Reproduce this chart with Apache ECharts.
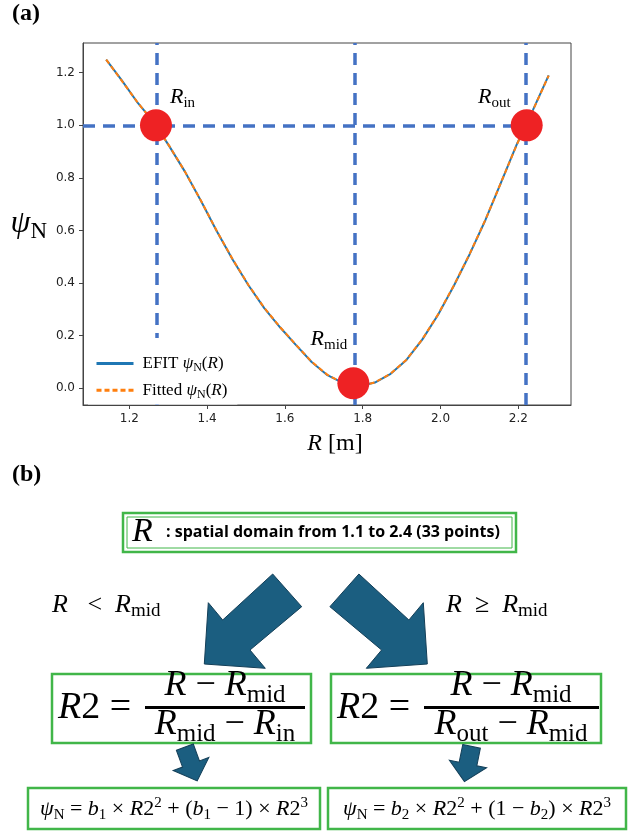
<!DOCTYPE html>
<html><head><meta charset="utf-8">
<script src="https://cdn.jsdelivr.net/npm/echarts@6/dist/echarts.min.js"></script>
<style>html,body{margin:0;padding:0;background:#fff}#c{width:629px;height:840px}</style>
</head><body><div id="c"></div>
<script>
// ---- data ----
const rGrid = [1.1406, 1.1813, 1.2219, 1.2625, 1.3031, 1.3438, 1.3844, 1.4250, 1.4656, 1.5063,
  1.5469, 1.5875, 1.6281, 1.6688, 1.7094, 1.7500, 1.7906, 1.8313, 1.8719, 1.9125,
  1.9531, 1.9938, 2.0344, 2.0750, 2.1156, 2.1563, 2.1969, 2.2375, 2.2781];
const psiEFIT = [1.250, 1.170, 1.085, 1.013, 0.920, 0.822, 0.712, 0.597, 0.490, 0.392,
  0.305, 0.232, 0.165, 0.100, 0.050, 0.020, 0.008, 0.022, 0.055, 0.108,
  0.185, 0.280, 0.390, 0.510, 0.640, 0.785, 0.930, 1.058, 1.190];
const psiFit = [1.250, 1.168, 1.086, 1.012, 0.921, 0.822, 0.713, 0.598, 0.491, 0.393,
  0.306, 0.233, 0.166, 0.101, 0.051, 0.020, 0.008, 0.022, 0.056, 0.109,
  0.186, 0.281, 0.391, 0.511, 0.641, 0.785, 0.929, 1.057, 1.189];
const rIn = 1.2686, rMid = 1.776, rOut = 2.2216;
const psiIn = 1.0, psiMid = 0.019, psiOut = 1.0;
const xTicks = [1.2, 1.4, 1.6, 1.8, 2.0, 2.2];
const yTicks = [0.0, 0.2, 0.4, 0.6, 0.8, 1.0, 1.2];
const xRange = [1.081, 2.3355];
const yRange = [-0.0635, 1.313];

// ---- styles ----
const SERIF = '"Liberation Serif", "DejaVu Serif", serif';
const refBlue = '#4472C4';
const green = '#41B649';
const arrowFill = '#1B5E80';
const arrowStroke = '#143F58';

function mathRich(size, subSize) {
  return {
    i: {fontFamily: SERIF, fontStyle: 'italic', fontSize: size, color: '#000', lineHeight: size * 1.2},
    t: {fontFamily: SERIF, fontSize: size, color: '#000', lineHeight: size * 1.2},
    g: {fontFamily: SERIF, fontStyle: 'italic', fontSize: size, color: '#000', lineHeight: size * 1.2},
    s: {fontFamily: SERIF, fontSize: subSize, color: '#000', verticalAlign: 'bottom', lineHeight: subSize * 0.95},
    p: {fontFamily: SERIF, fontSize: subSize, color: '#000', verticalAlign: 'top', lineHeight: subSize * 0.95}
  };
}

const chart = echarts.init(document.getElementById('c'), null, {renderer: 'canvas'});

// diagram shapes for panel (b), in pixels
const bigL = [[272.7,574],[301.7,606.7],[250,650],[265.3,668.3],[204.3,664],[208.3,602.7],[222.7,620]];
const bigR = bigL.map(p => [631.6 - p[0], p[1]]);
const smallArrow = [[-9,-18],[9,-18],[9,0],[19,0],[0,18],[-19,0],[-9,0]];

const legendLabel = {
  EFIT: '{t|EFIT }{g|ψ}{s|N}{t|(}{i|R}{t|)}',
  Fitted: '{t|Fitted }{g|ψ}{s|N}{t|(}{i|R}{t|)}'
};

const option = {
  animation: false,
  backgroundColor: '#fff',
  grid: {left: 83, top: 43, right: 58, bottom: 435, show: true, borderColor: '#444', borderWidth: 1},
  xAxis: {
    type: 'value', min: xRange[0], max: xRange[1],
    splitLine: {show: false},
    axisLine: {onZero: false, lineStyle: {color: '#444', width: 1}},
    axisTick: {customValues: xTicks, length: 4, lineStyle: {color: '#444'}},
    axisLabel: {customValues: xTicks, formatter: v => v.toFixed(1), color: '#222', fontFamily: 'DejaVu Sans', fontSize: 12, margin: 8},
    name: '{i|R}{t| [m]}', nameLocation: 'middle', nameGap: 24,
    nameTextStyle: {rich: mathRich(24, 17), padding: [0, 0, 0, 16]}
  },
  yAxis: {
    type: 'value', min: yRange[0], max: yRange[1],
    splitLine: {show: false},
    axisLine: {show: true, onZero: false, lineStyle: {color: '#444', width: 1}},
    axisTick: {show: true, customValues: yTicks, length: 4, lineStyle: {color: '#444'}},
    axisLabel: {customValues: yTicks, formatter: v => v.toFixed(1), color: '#222', fontFamily: 'DejaVu Sans', fontSize: 12, margin: 8},
    name: '{g|ψ}{s|N}', nameLocation: 'middle', nameGap: 36, nameRotate: 0,
    nameTextStyle: {rich: mathRich(32, 23)}
  },
  legend: {
    data: ['EFIT', 'Fitted'], orient: 'vertical', left: 88, top: 338,
    padding: [17, 10, 4, 7], itemGap: 8, itemWidth: 37, itemHeight: 15,
    backgroundColor: '#fff', z: 10,
    itemStyle: {opacity: 0},
    lineStyle: {width: 3},
    formatter: n => legendLabel[n],
    textStyle: {rich: mathRich(17, 12), padding: [0, 0, 0, 4]}
  },
  series: [
    {
      name: 'EFIT', type: 'line', symbol: 'none', z: 2,
      data: rGrid.map((r, i) => [r, psiEFIT[i]]),
      lineStyle: {color: '#1f77b4', width: 2}, itemStyle: {color: '#1f77b4'}
    },
    {
      name: 'Fitted', type: 'line', symbol: 'none', z: 3,
      data: rGrid.map((r, i) => [r, psiFit[i]]),
      lineStyle: {color: '#ff7f0e', width: 2, type: [5, 3]}, itemStyle: {color: '#ff7f0e'}
    },
    {
      name: 'refs', type: 'line', data: [], z: 4,
      markLine: {
        silent: true, symbol: 'none', label: {show: false},
        lineStyle: {color: refBlue, width: 3.5, type: [12, 8]},
        data: [
          {xAxis: rIn}, {xAxis: rMid}, {xAxis: rOut},
          [{coord: [xRange[0], psiIn]}, {coord: [rOut, psiOut]}]
        ]
      }
    },
    {
      name: 'points', type: 'scatter', symbolSize: 32, z: 5,
      itemStyle: {color: '#EE2224', opacity: 1},
      label: {show: true, rich: mathRich(22, 15)},
      data: [
        {value: [rIn, psiIn], label: {position: [30, -12], align: 'left', verticalAlign: 'middle', formatter: '{i|R}{s|in}'}},
        {value: [rMid, psiMid], label: {position: [10, -28], align: 'right', verticalAlign: 'middle', formatter: '{i|R}{s|mid}'}},
        {value: [rOut, psiOut], label: {position: [0, -12], align: 'right', verticalAlign: 'middle', formatter: '{i|R}{s|out}'}}
      ]
    }
  ],
  graphic: [
    {type: 'text', x: 12, y: 2, style: {text: '(a)', font: 'bold 24px ' + SERIF, fill: '#000'}},
    {type: 'text', x: 12, y: 463, style: {text: '(b)', font: 'bold 24px ' + SERIF, fill: '#000'}},
    // top box (double border)
    {type: 'rect', shape: {x: 123, y: 513, width: 393, height: 39}, style: {fill: '#fff', stroke: green, lineWidth: 2.5}},
    {type: 'rect', shape: {x: 127, y: 517, width: 385, height: 31}, style: {fill: 'none', stroke: green, lineWidth: 1}},
    {type: 'text', x: 132, y: 532, style: {text: 'R', font: 'italic 34px ' + SERIF, fill: '#000', verticalAlign: 'middle'}},
    {type: 'text', x: 166, y: 532, style: {text: ': spatial domain from 1.1 to 2.4 (33 points)', font: 'bold 16px "Open Sans"', fill: '#000', verticalAlign: 'middle'}},
    // conditions
    {type: 'text', x: 52, y: 605, style: {text: '{i|R}{t|   <  }{i|R}{s|mid}', rich: mathRich(26, 19), verticalAlign: 'middle'}},
    {type: 'text', x: 446, y: 605, style: {text: '{i|R}{t|  ≥  }{i|R}{s|mid}', rich: mathRich(26, 19), verticalAlign: 'middle'}},
    // big arrows
    {type: 'polygon', shape: {points: bigL}, style: {fill: arrowFill, stroke: arrowStroke, lineWidth: 1}},
    {type: 'polygon', shape: {points: bigR}, style: {fill: arrowFill, stroke: arrowStroke, lineWidth: 1}},
    // middle boxes
    {type: 'rect', shape: {x: 52, y: 674, width: 259, height: 69}, style: {fill: 'none', stroke: green, lineWidth: 2.5}},
    {type: 'rect', shape: {x: 331, y: 674, width: 270, height: 69}, style: {fill: 'none', stroke: green, lineWidth: 2.5}},
    {type: 'text', x: 58, y: 708, style: {text: '{i|R}{t|2 =}', rich: mathRich(38, 26), verticalAlign: 'middle'}},
    {type: 'rect', shape: {x: 145, y: 706, width: 160, height: 3}, style: {fill: '#000'}},
    {type: 'text', x: 225, y: 686, style: {text: '{i|R}{t| − }{i|R}{s|mid}', rich: mathRich(36, 25), align: 'center', verticalAlign: 'middle'}},
    {type: 'text', x: 225, y: 725, style: {text: '{i|R}{s|mid}{t| − }{i|R}{s|in}', rich: mathRich(36, 25), align: 'center', verticalAlign: 'middle'}},
    {type: 'text', x: 337, y: 708, style: {text: '{i|R}{t|2 =}', rich: mathRich(38, 26), verticalAlign: 'middle'}},
    {type: 'rect', shape: {x: 424, y: 706, width: 175, height: 3}, style: {fill: '#000'}},
    {type: 'text', x: 511, y: 686, style: {text: '{i|R}{t| − }{i|R}{s|mid}', rich: mathRich(36, 25), align: 'center', verticalAlign: 'middle'}},
    {type: 'text', x: 511, y: 725, style: {text: '{i|R}{s|out}{t| − }{i|R}{s|mid}', rich: mathRich(36, 25), align: 'center', verticalAlign: 'middle'}},
    // small arrows
    {type: 'polygon', x: 191, y: 764, rotation: 0.35, shape: {points: smallArrow}, style: {fill: arrowFill, stroke: arrowStroke, lineWidth: 1}},
    {type: 'polygon', x: 468, y: 764, rotation: -0.2, shape: {points: smallArrow}, style: {fill: arrowFill, stroke: arrowStroke, lineWidth: 1}},
    // bottom boxes
    {type: 'rect', shape: {x: 28, y: 788, width: 292, height: 41}, style: {fill: 'none', stroke: green, lineWidth: 2.5}},
    {type: 'rect', shape: {x: 328, y: 788, width: 298, height: 41}, style: {fill: 'none', stroke: green, lineWidth: 2.5}},
    {type: 'text', x: 174, y: 809, style: {text: '{g|ψ}{s|N}{t| = }{i|b}{s|1}{t| × }{i|R}{t|2}{p|2}{t| + (}{i|b}{s|1}{t| − 1) × }{i|R}{t|2}{p|3}', rich: mathRich(22, 15), align: 'center', verticalAlign: 'middle'}},
    {type: 'text', x: 477, y: 809, style: {text: '{g|ψ}{s|N}{t| = }{i|b}{s|2}{t| × }{i|R}{t|2}{p|2}{t| + (1 − }{i|b}{s|2}{t|) × }{i|R}{t|2}{p|3}', rich: mathRich(22, 15), align: 'center', verticalAlign: 'middle'}}
  ]
};
chart.setOption(option);
</script></body></html>
